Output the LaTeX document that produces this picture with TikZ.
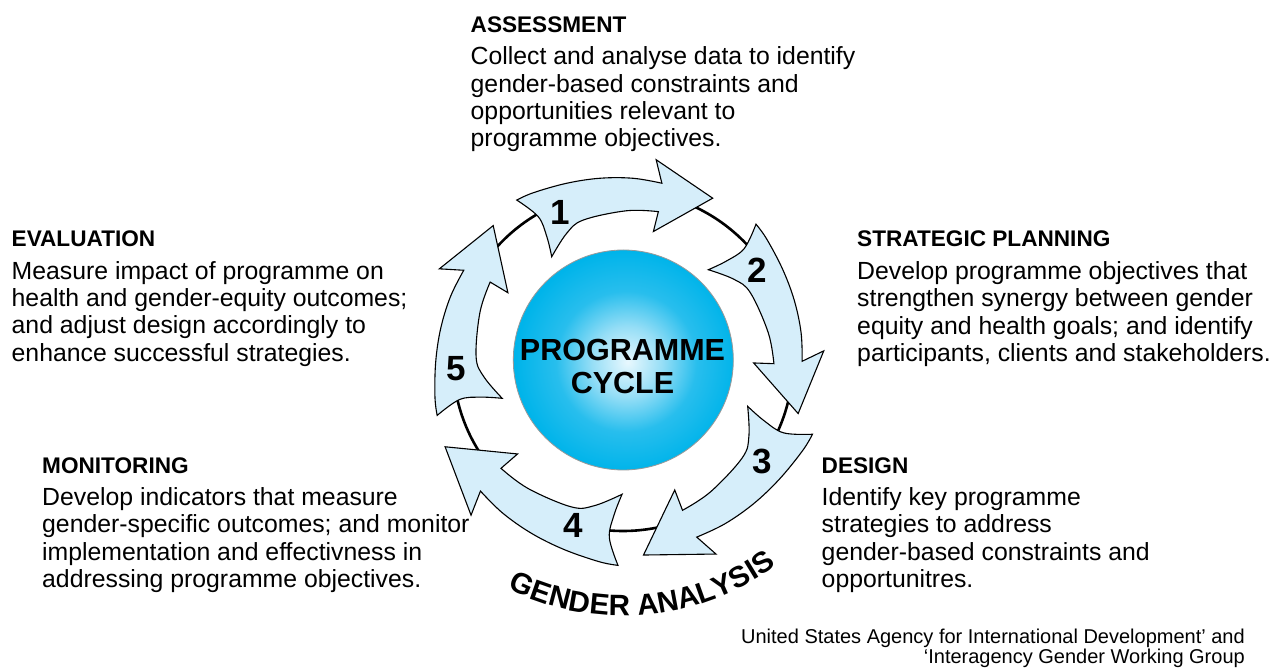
\documentclass[tikz,border=0pt]{standalone}
\usepackage{fontspec}
\setmainfont{Liberation Sans}
\usetikzlibrary{decorations.text}
\definecolor{arrfill}{RGB}{214,238,250}
\definecolor{ballA}{RGB}{232,248,254}
\definecolor{ballB}{RGB}{150,222,246}
\definecolor{ballC}{RGB}{40,190,237}
\definecolor{ballD}{RGB}{0,180,234}
\pgfdeclareradialshading{ballshade}{\pgfpoint{1bp}{-0.5bp}}{color(0bp)=(ballA); color(8bp)=(ballB); color(16bp)=(ballC); color(25bp)=(ballD); color(50bp)=(ballD)}
\newcommand{\bodytext}[1]{\parbox[t]{440pt}{\fontsize{24.8}{27.3}\selectfont #1}}
\newcommand{\cyclearrow}[2]{%
\begin{scope}[shift={(623,309)}, rotate=#1, scale=#2]
\draw[cyclearr] plot[smooth, tension=0.6] coordinates {(123.6:192) (118.2:189.8) (107.7:185.5) (97.2:183.2) (86.8:182) (77.6:181)}
 -- (80.6:203) -- (61:185) -- (76.7:132) -- (76.6:152.5)
 -- plot[smooth, tension=0.6] coordinates {(76.6:152.5) (88.6:149.3) (105.8:145.5) (114:138.6) (124.6:125.5)}
 -- plot[smooth, tension=0.6] coordinates {(124.6:125.5) (121.7:145) (120.6:166.5) (123.6:192)}
 -- cycle;
\end{scope}}
\begin{document}
\begin{tikzpicture}[x=1pt,y=1pt,
  cyclearr/.style={draw=black, line width=1.1pt, fill=arrfill, line join=miter},
  headtext/.style={anchor=base west, inner sep=0, font=\fontsize{22.6}{26}\selectfont\bfseries},
  bodynode/.style={anchor=base west, inner sep=0},
  numlabel/.style={inner sep=0, font=\fontsize{35}{35}\selectfont\bfseries}]
\useasboundingbox (0,0) rectangle (1273,669);
\fill[white] (0,0) rectangle (1273,669);

% ring
\draw[line width=2.6pt] (623,308) circle[radius=170];

% arrows
\cyclearrow{0}{1.0}
\cyclearrow{-78}{0.99}
\cyclearrow{-145}{1.06}
\cyclearrow{-215}{1.07}
\cyclearrow{-287}{1.01}

% central ball
\node[circle, minimum size=220pt, inner sep=0, shading=ballshade, draw=black!40, line width=0.8pt] (ball) at (623.3,309) {};
\node[anchor=base, inner sep=0] (title) at (622.5,308.3) {\parbox[t]{240pt}{\centering\fontsize{30.5}{32.6}\selectfont\bfseries PROGRAMME\\CYCLE}};

% numbers
\node[numlabel] (n1) at (560,457) {1};
\node[numlabel] (n2) at (757,399) {2};
\node[numlabel] (n3) at (762,208) {3};
\node[numlabel] (n4) at (573,144) {4};
\node[numlabel] (n5) at (456.5,300) {5};

% curved label
\path[decorate, decoration={text along path, text align=center, text={|\fontsize{29.5}{29.5}\selectfont\bfseries|GENDER ANALYSIS}}] ([shift={(-124:256)}]623,309) arc[start angle=-124, end angle=-46, radius=256];

% text blocks
\node[headtext] (assh) at (470.5,636.7) {ASSESSMENT};
\node[bodynode] (assb) at (470.5,604) {\bodytext{Collect and analyse data to identify\\gender-based constraints and\\opportunities relevant to\\programme objectives.}};

\node[headtext] (evah) at (11.5,422.3) {EVALUATION};
\node[bodynode] (evab) at (11.5,389.8) {\bodytext{Measure impact of programme on\\health and gender-equity outcomes;\\and adjust design accordingly to\\enhance successful strategies.}};

\node[headtext] (strh) at (857,422.5) {STRATEGIC PLANNING};
\node[bodynode] (strb) at (857,389.5) {\bodytext{Develop programme objectives that\\strengthen synergy between gender\\equity and health goals; and identify\\participants, clients and stakeholders.}};

\node[headtext] (monh) at (42,195.8) {MONITORING};
\node[bodynode] (monb) at (42,163.5) {\bodytext{Develop indicators that measure\\gender-specific outcomes; and monitor\\implementation and effectivness in\\addressing programme objectives.}};

\node[headtext] (desh) at (821.5,195.8) {DESIGN};
\node[bodynode] (desb) at (821.5,163.5) {\bodytext{Identify key programme\\strategies to address\\gender-based constraints and\\opportunitres.}};

\node[anchor=base east, inner sep=0] (credit) at (1245,25.5) {\parbox[t]{560pt}{\raggedleft\fontsize{20}{19.8}\selectfont United States Agency for International Development’ and\\‘Interagency Gender Working Group}};
\end{tikzpicture}
\end{document}
